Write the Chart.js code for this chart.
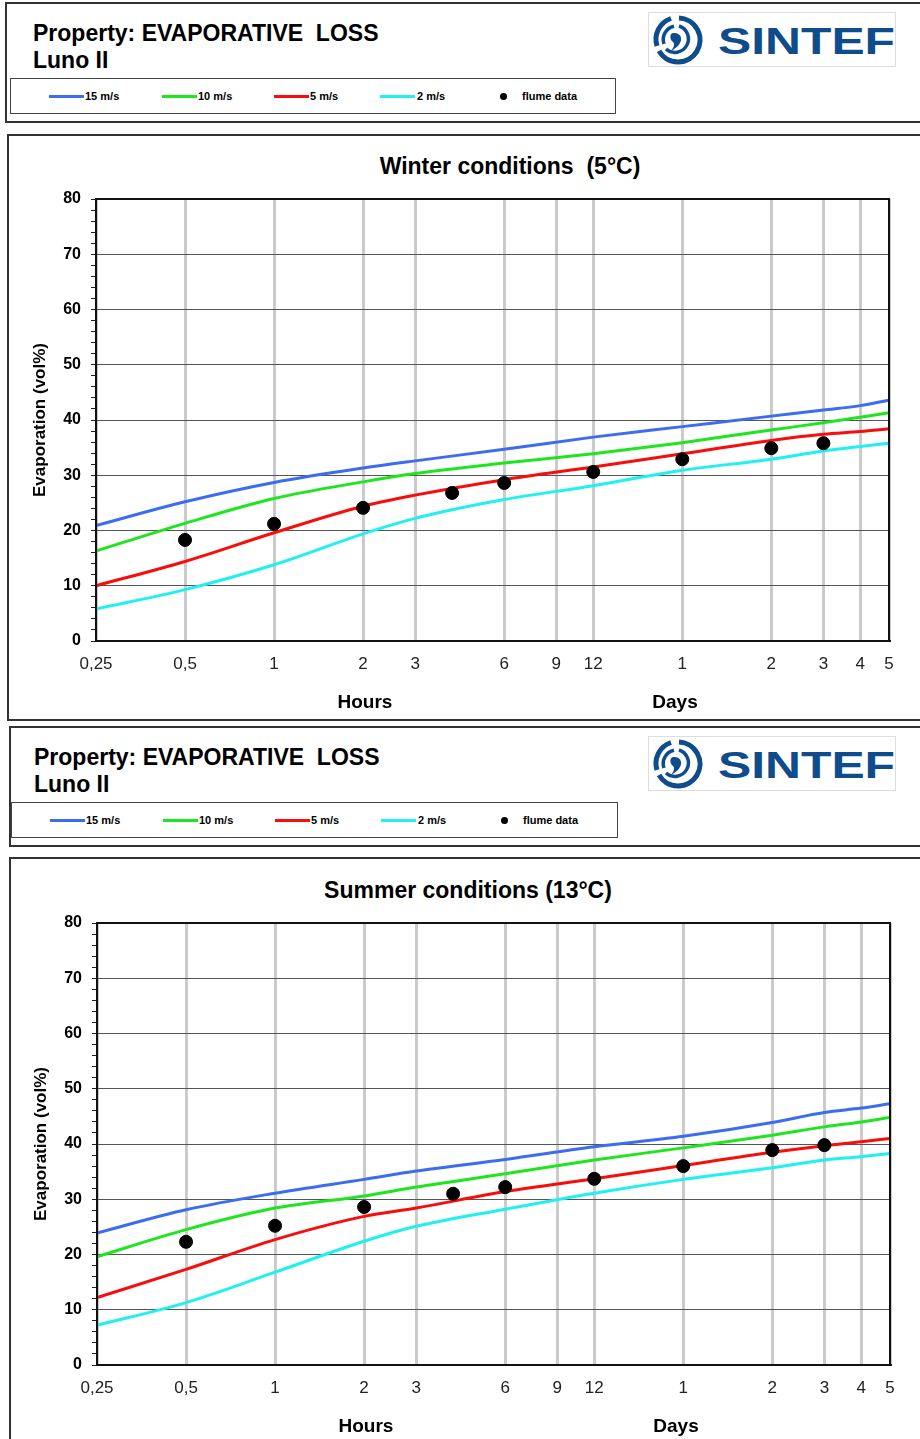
<!DOCTYPE html>
<html>
<head>
<meta charset="utf-8">
<script src="https://cdn.jsdelivr.net/npm/chart.js@4.4.0/dist/chart.umd.min.js"></script>
<style>
body { margin: 0; background: #fff; font-family: Arial, "Liberation Sans", sans-serif; color: #000; }
#page { position: relative; width: 920px; height: 1439px; overflow: hidden; }
.box { position: absolute; border: 2px solid #333; box-sizing: border-box; }
.head-title { position: absolute; font-weight: bold; font-size: 23px; line-height: 23px; white-space: pre; }
.legend { position: absolute; border: 1px solid #444; box-sizing: border-box; height: 36px; }
.leg-line { position: absolute; top: 16px; width: 35px; height: 3px; }
.leg-text { position: absolute; top: 11px; font-size: 11px; font-weight: bold; line-height: 12px; white-space: pre; }
.leg-dot { position: absolute; top: 14px; width: 7px; height: 7px; border-radius: 50%; background: #000; }
.logo { position: absolute; border: 1px solid #ddd; width: 248px; height: 55px; box-sizing: border-box; }
.center-label { position: absolute; font-weight: bold; transform: translate(-50%, -50%); white-space: pre; }
canvas { position: absolute; }
</style>
</head>
<body>
<div id="page">
    <!-- panel 1 -->
    <div class="box" style="left:5px; top:2px; width:930px; height:121px;"></div>
    <div class="head-title" style="left:33px; top:22px;">Property: EVAPORATIVE  LOSS</div>
    <div class="head-title" style="left:33px; top:49px;">Luno II</div>
    <div class="legend" id="legend1" style="left:10px; top:78px; width:606px;"></div>
    <div class="logo" id="logo1" style="left:648px; top:12px;"></div>

    <div class="box" style="left:7px; top:134px; width:930px; height:587px;"></div>
    <div class="center-label" style="left:510px; top:166px; font-size:23px;">Winter conditions  (5°C)</div>
    <canvas id="graphic-winter" width="910" height="580" style="left:8px; top:137px;"></canvas>
    <div class="center-label" style="left:365px; top:702px; font-size:19px;">Hours</div>
    <div class="center-label" style="left:675px; top:702px; font-size:19px;">Days</div>

    <!-- panel 2 -->
    <div class="box" style="left:9px; top:726px; width:930px; height:121px;"></div>
    <div class="head-title" style="left:34px; top:746px;">Property: EVAPORATIVE  LOSS</div>
    <div class="head-title" style="left:34px; top:773px;">Luno II</div>
    <div class="legend" id="legend2" style="left:11px; top:802px; width:607px;"></div>
    <div class="logo" id="logo2" style="left:648px; top:736px;"></div>

    <div class="box" style="left:9px; top:857px; width:930px; height:600px;"></div>
    <div class="center-label" style="left:468px; top:890px; font-size:23px;">Summer conditions (13°C)</div>
    <canvas id="graphic-summer" width="911" height="579" style="left:9px; top:860px;"></canvas>
    <div class="center-label" style="left:366px; top:1426px; font-size:19px;">Hours</div>
    <div class="center-label" style="left:676px; top:1426px; font-size:19px;">Days</div>
</div>

<script>
// eixo x (horas, escala log)
const tickHours = [0.25, 0.5, 1, 2, 3, 6, 9, 12, 24, 48, 72, 96, 120];
const tickLabels = ['0,25', '0,5', '1', '2', '3', '6', '9', '12', '1', '2', '3', '4', '5'];

const speedLabels = ['15 m/s', '10 m/s', '5 m/s', '2 m/s'];
const speedColors = ['#3b6cf2', '#1ee61e', '#f80c0c', '#20f0f0'];
const flumeLabel = 'flume data';

const curveHours = [0.25, 0.5, 1, 2, 3, 6, 12, 24, 48, 72, 96, 120];
const flumeHours = [0.5, 1, 2, 4, 6, 12, 24, 48, 72];

// Winter (5°C)
const winter15 = [20.9, 25.2, 28.7, 31.3, 32.6, 34.7, 36.9, 38.8, 40.7, 41.8, 42.6, 43.6];
const winter10 = [16.3, 21.3, 25.8, 28.8, 30.3, 32.2, 33.9, 35.9, 38.2, 39.5, 40.5, 41.3];
const winter5 = [10.0, 14.4, 19.6, 24.4, 26.4, 29.2, 31.5, 33.9, 36.3, 37.4, 37.9, 38.4];
const winter2 = [5.8, 9.3, 13.8, 19.4, 22.2, 25.6, 28.1, 30.9, 32.9, 34.4, 35.2, 35.8];
const winterFlume = [18.3, 21.2, 24.1, 26.8, 28.6, 30.6, 32.9, 34.9, 35.8];

// Summer (13°C)
const summer15 = [23.9, 28.1, 31.1, 33.6, 35.1, 37.2, 39.5, 41.4, 43.9, 45.7, 46.5, 47.3];
const summer10 = [19.6, 24.5, 28.4, 30.6, 32.2, 34.6, 37.1, 39.3, 41.6, 43.1, 44.0, 44.8];
const summer5 = [12.2, 17.3, 22.7, 26.9, 28.4, 31.4, 33.7, 36.1, 38.5, 39.7, 40.4, 41.0];
const summer2 = [7.2, 11.3, 16.8, 22.4, 25.1, 28.2, 31.1, 33.6, 35.7, 37.1, 37.7, 38.3];
const summerFlume = [22.3, 25.2, 28.6, 31.0, 32.2, 33.7, 36.0, 38.9, 39.8];


function points(xs, ys) {
    return xs.map((x, i) => ({ x: x, y: ys[i] }));
}

// legenda e logo (html)
function buildLegend(el) {
    const lineLeft = [38, 151, 263, 369];
    const textLeft = [74, 187, 299, 406];
    let html = '';
    speedLabels.forEach((label, i) => {
        html += `<div class="leg-line" style="left:${lineLeft[i]}px; background:${speedColors[i]}"></div>`;
        html += `<div class="leg-text" style="left:${textLeft[i]}px">${label}</div>`;
    });
    html += `<div class="leg-dot" style="left:489px"></div>`;
    html += `<div class="leg-text" style="left:511px">${flumeLabel}</div>`;
    el.innerHTML = html;
}

function buildLogo(el) {
    el.innerHTML = `
    <svg width="246" height="53" viewBox="0 0 246 53">
        <g fill="none" stroke="#0f4c8c">
            <path d="M 30 5 A 22 22 0 1 1 10 38" stroke-width="5"/>
            <path d="M 8 33 A 22 22 0 0 1 22 5.5" stroke-width="5"/>
            <path d="M 30 13 A 13.5 13.5 0 1 1 17 36" stroke-width="3.5"/>
            <path d="M 15 31 A 13.5 13.5 0 0 1 25 13.3" stroke-width="3.5"/>
        </g>
        <path d="M 24 20 C 31 19 34 25 31 30 C 29 34 25 36 22 38 C 25 34 26 31 24 29 C 21 27 20 21 24 20 Z" fill="#0f4c8c"/>
        <text x="69" y="41" font-family="Arial, Liberation Sans" font-weight="bold" font-size="36" fill="#0f4c8c" textLength="177" lengthAdjust="spacingAndGlyphs">SINTEF</text>
    </svg>`;
}

buildLegend(document.getElementById('legend1'));
buildLegend(document.getElementById('legend2'));
buildLogo(document.getElementById('logo1'));
buildLogo(document.getElementById('logo2'));

// moldura preta do gráfico
const plotFrame = {
    id: 'plotFrame',
    afterDraw(chart) {
        const a = chart.chartArea;
        const ctx = chart.ctx;
        ctx.save();
        ctx.strokeStyle = '#111';
        ctx.lineWidth = 2;
        ctx.strokeRect(a.left, a.top, a.right - a.left, a.bottom - a.top);
        ctx.restore();
    }
};

function makeChart(canvasId, series, flume, pad) {
    const datasets = [{
        label: flumeLabel,
        data: points(flumeHours, flume),
        backgroundColor: '#000',
        borderColor: '#000',
        pointRadius: 6.5,
        showLine: false,
        order: 0
    }];
    series.forEach((values, i) => {
        datasets.push({
            label: speedLabels[i],
            data: points(curveHours, values),
            borderColor: speedColors[i],
            backgroundColor: speedColors[i],
            borderWidth: 3,
            pointRadius: 0,
            showLine: true,
            cubicInterpolationMode: 'monotone',
            order: 1
        });
    });

    return new Chart(document.getElementById(canvasId), {
        type: 'scatter',
        data: { datasets: datasets },
        plugins: [plotFrame],
        options: {
            responsive: false,
            maintainAspectRatio: false,
            animation: false,
            layout: { padding: { top: pad.top, right: pad.right, left: 0, bottom: 0 } },
            plugins: {
                legend: { display: false },
                tooltip: { enabled: false }
            },
            scales: {
                x: {
                    type: 'logarithmic',
                    min: 0.25,
                    max: 120,
                    afterBuildTicks: (scale) => {
                        scale.ticks = tickHours.map(v => ({ value: v }));
                    },
                    afterFit: (scale) => { scale.height = pad.xHeight; },
                    ticks: {
                        autoSkip: false,
                        maxRotation: 0,
                        padding: 13,
                        color: '#222',
                        font: { family: 'Arial', size: 17 },
                        callback: (value, index) => tickLabels[index]
                    },
                    grid: {
                        color: '#cbcbcb',
                        lineWidth: 3,
                        drawTicks: false
                    },
                    border: { color: '#111', width: 2 }
                },
                y: {
                    min: 0,
                    max: 80,
                    afterFit: (scale) => { scale.width = 88; },
                    ticks: {
                        stepSize: 2,
                        autoSkip: false,
                        padding: 10,
                        color: '#000',
                        font: { family: 'Arial', size: 16, weight: 'bold' },
                        callback: (value) => (value % 10 === 0 ? value : '')
                    },
                    grid: {
                        color: (ctx) => (ctx.tick && ctx.tick.value % 10 === 0 ? '#555' : 'rgba(0,0,0,0)'),
                        tickColor: '#222',
                        tickLength: 5,
                        lineWidth: 1
                    },
                    border: { color: '#111', width: 2 },
                    title: {
                        display: true,
                        text: 'Evaporation (vol%)',
                        color: '#000',
                        font: { family: 'Arial', size: 17, weight: 'bold' },
                        padding: { top: 22, bottom: 0 }
                    }
                }
            }
        }
    });
}

var chartWinter = makeChart('graphic-winter', [winter15, winter10, winter5, winter2], winterFlume,
    { top: 62, right: 29, xHeight: 76 });
var chartSummer = makeChart('graphic-summer', [summer15, summer10, summer5, summer2], summerFlume,
    { top: 63, right: 30, xHeight: 74 });
</script>
</body>
</html>
